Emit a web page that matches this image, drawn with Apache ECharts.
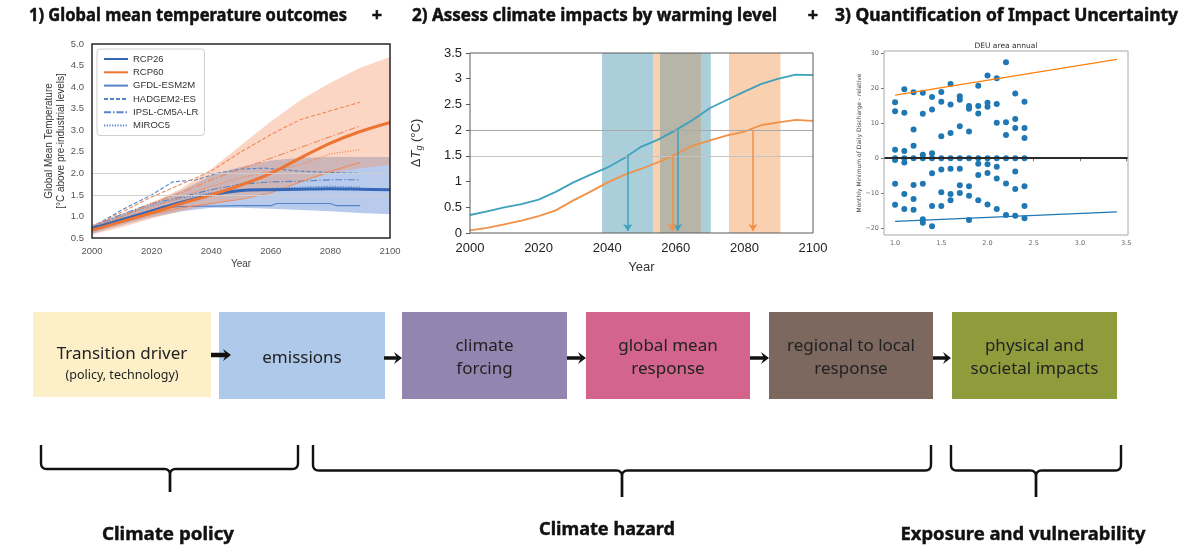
<!DOCTYPE html>
<html>
<head>
<meta charset="utf-8">
<script src="https://cdn.jsdelivr.net/npm/echarts@6/dist/echarts.min.js"></script>
<style>
  html, body { margin: 0; padding: 0; background: #fff; }
  #chart { width: 1182px; height: 547px; }
</style>
</head>
<body>
<div id="chart"></div>
<script>
// ---------- Panel 1: global mean temperature outcomes ----------
const years1 = [2000, 2010, 2020, 2030, 2040, 2050, 2060, 2070, 2080, 2090, 2100];
const rcp26   = [0.72, 0.92, 1.13, 1.33, 1.50, 1.60, 1.62, 1.63, 1.64, 1.63, 1.62];
const rcp26Lo = [0.60, 0.80, 0.98, 1.12, 1.20, 1.20, 1.18, 1.15, 1.12, 1.08, 1.05];
const rcp26Hi = [0.80, 1.05, 1.30, 1.60, 1.95, 2.15, 2.30, 2.36, 2.38, 2.38, 2.38];
const rcp60   = [0.68, 0.88, 1.08, 1.30, 1.50, 1.73, 2.00, 2.36, 2.70, 2.97, 3.18];
const rcp60Lo = [0.58, 0.75, 0.95, 1.12, 1.28, 1.42, 1.58, 1.80, 2.00, 2.12, 2.20];
const rcp60Hi = [0.80, 1.05, 1.32, 1.65, 2.10, 2.65, 3.20, 3.70, 4.10, 4.45, 4.70];

const modelYears = [2000, 2010, 2020, 2030, 2040, 2050, 2060, 2070, 2080, 2090];
const gfdl26Years = [2000, 2010, 2020, 2025, 2030, 2040, 2050, 2060, 2062, 2070, 2080, 2082, 2090];
const gfdl26 = [0.72, 0.95, 1.12, 1.20, 1.23, 1.24, 1.25, 1.25, 1.30, 1.30, 1.30, 1.25, 1.25];
const had26Years = [2000, 2010, 2020, 2027, 2035, 2042, 2050, 2058, 2070, 2080, 2090];
const had26  = [0.75, 1.15, 1.50, 1.80, 1.85, 2.00, 2.10, 2.12, 2.05, 2.02, 2.00];
const ipsl26  = [0.75, 1.05, 1.30, 1.45, 1.62, 1.75, 1.80, 1.82, 1.85, 1.85];
const miroc26 = [0.72, 1.00, 1.25, 1.42, 1.55, 1.62, 1.65, 1.68, 1.70, 1.68];
const gfdl60  = [0.70, 0.90, 1.05, 1.20, 1.30, 1.40, 1.55, 1.80, 2.05, 2.25];
const had60   = [0.75, 1.10, 1.45, 1.75, 2.05, 2.50, 2.90, 3.25, 3.45, 3.65];
const ipsl60  = [0.72, 1.00, 1.30, 1.55, 1.85, 2.10, 2.35, 2.60, 2.85, 3.10];
const miroc60 = [0.72, 0.95, 1.20, 1.45, 1.70, 1.90, 2.05, 2.20, 2.45, 2.55];
const targetLevels = [1.5, 2.0];

// ---------- Panel 2: warming-level crossing times ----------
const years2 = [2000, 2005, 2010, 2015, 2020, 2025, 2030, 2035, 2040, 2045, 2050,
                2055, 2060, 2065, 2070, 2075, 2080, 2085, 2090, 2095, 2100];
const upperPath = [0.35, 0.42, 0.50, 0.56, 0.65, 0.80, 0.98, 1.13, 1.27, 1.46, 1.68,
                   1.82, 2.00, 2.20, 2.43, 2.59, 2.75, 2.90, 3.00, 3.08, 3.07];
const lowerPath = [0.05, 0.10, 0.17, 0.24, 0.33, 0.44, 0.63, 0.80, 0.98, 1.13, 1.25,
                   1.38, 1.53, 1.70, 1.80, 1.90, 1.97, 2.10, 2.15, 2.20, 2.18];
const upperCrossings = [[2046, 1.5], [2060.5, 2.0]];
const lowerCrossings = [[2059, 1.5], [2082.5, 2.0]];
const upperWindows = [[2038.5, 2053.4], [2055.4, 2070.2]];
const lowerWindows = [[2053.4, 2067.3], [2075.5, 2090.5]];

// ---------- Panel 3: impact vs warming level ----------
const warmingLevels = [1.0, 1.1, 1.2, 1.3, 1.4, 1.5, 1.6, 1.7, 1.8, 1.9, 2.0, 2.1, 2.2, 2.3, 2.4];
const dischargeChange = [
  [16.0, 13.4, 2.4, 0, -0.5, -7.3, -13.3],
  [19.7, 13.0, 2.1, 0, -1.2, -10.2, -14.5],
  [18.8, 8.2, 3.6, 0, -7.6, -11.6, -14.7],
  [18.7, 12.7, 1.0, 0, -7.3, -17.4, -18.4],
  [17.5, 13.9, 1.4, 0, -4.3, -13.6, -19.4],
  [18.9, 16.1, 6.3, 0, -3.2, -9.7, -13.6],
  [21.2, 15.3, 7.2, 0, -3.0, -10.2, -12.0],
  [17.7, 16.7, 9.1, 0, -3.0, -7.7, -9.9],
  [14.9, 14.1, 7.6, 0, -8.0, -10.7, -17.6],
  [20.7, 14.9, 12.8, 0, -1.6, -4.8, -12.0],
  [23.6, 15.8, 14.7, 0, -1.7, -4.2, -13.2],
  [22.8, 15.5, 10.1, 0, -2.4, -5.8, -14.5],
  [27.4, 10.3, 6.6, 0, -7.2, -16.2],
  [18.5, 11.2, 8.6, 0, -3.8, -8.8, -16.4],
  [16.1, 8.6, 5.8, 0, -8.0, -13.6, -17.1]
];
const upperTrend = [[1.0, 18.0], [3.4, 28.2]];
const lowerTrend = [[1.0, -18.0], [3.4, -15.3]];
const xTicks3 = [1.0, 1.5, 2.0, 2.5, 3.0, 3.5];
const yTicks3 = [-20, -10, 0, 10, 20, 30];

// ---------- Text content ----------
const headings = ['1) Global mean temperature outcomes', '2) Assess climate impacts by warming level',
                  '3) Quantification of Impact Uncertainty'];
const stages = ['Transition driver', 'emissions', 'climate\nforcing', 'global mean\nresponse',
                'regional to local\nresponse', 'physical and\nsocietal impacts'];
const stageNote = '(policy, technology)';
const groups = ['Climate policy', 'Climate hazard', 'Exposure and vulnerability'];

// ---------- Layout & style ----------
const G1 = { left: 92, top: 44, width: 298, height: 194 };
const G2 = { left: 470, top: 53, width: 343, height: 180 };
const G3 = { left: 884, top: 51, width: 244, height: 184 };
const C26 = '#3467b6', C26t = '#5584c8', C60 = '#ee7433', C60t = '#ef8a58';
const TEAL = '#3ea2bd', ORNG = '#f29148';
const SANS = '"Liberation Sans", Arial, sans-serif';
const HEAD = '"Noto Sans", sans-serif';

const pairs = (xs, ys) => xs.map((x, i) => [x, ys[i]]);
const plain = v => String(v);
const measureCtx = document.createElement('canvas').getContext('2d');
function textWidth(t, font) { measureCtx.font = font; return measureCtx.measureText(t).width; }

// shaded ensemble range: one polygon through the upper bound and back along the lower bound
function rangeBand(name, lo, hi, color) {
  return { name, type: 'custom', xAxisIndex: 0, yAxisIndex: 0, silent: true, z: 1, clip: true,
    data: years1.map((x, i) => [x, lo[i], hi[i]]),
    renderItem: (params, api) => {
      if (params.dataIndex !== 0) return null;
      const top = years1.map((x, i) => api.coord([x, hi[i]]));
      const bottom = years1.map((x, i) => api.coord([x, lo[i]])).reverse();
      return { type: 'polygon', shape: { points: top.concat(bottom) }, style: { fill: color } };
    } };
}
function modelLine(name, xs, ys, color, type) {
  return { name, type: 'line', xAxisIndex: 0, yAxisIndex: 0, data: pairs(xs, ys), symbol: 'none',
           lineStyle: { color, width: 1.1, type }, itemStyle: { color, opacity: 0 }, silent: true, z: 3 };
}
const DASH = [4, 2], DASHDOT = [7, 2, 1.5, 2], DOT = [1.2, 1.5];

const series = [
  { name: 'levels 1', type: 'line', xAxisIndex: 0, yAxisIndex: 0, data: [], silent: true,
    markLine: { silent: true, symbol: 'none', label: { show: false },
      lineStyle: { color: '#cfcfcf', width: 1, type: 'solid' },
      data: targetLevels.map(v => ({ yAxis: v })) } },
  rangeBand('RCP26 range', rcp26Lo, rcp26Hi, 'rgba(72,118,204,0.38)'),
  rangeBand('RCP60 range', rcp60Lo, rcp60Hi, 'rgba(244,140,92,0.36)'),
  // individual models
  modelLine('GFDL-ESM2M', gfdl26Years, gfdl26, C26t, 'solid'),
  modelLine('HADGEM2-ES', had26Years, had26, C26t, DASH),
  modelLine('IPSL-CM5A-LR', modelYears, ipsl26, C26t, DASHDOT),
  modelLine('MIROC5', modelYears, miroc26, C26t, DOT),
  modelLine('GFDL-ESM2M 6.0', modelYears, gfdl60, C60t, 'solid'),
  modelLine('HADGEM2-ES 6.0', modelYears, had60, C60t, DASH),
  modelLine('IPSL-CM5A-LR 6.0', modelYears, ipsl60, C60t, DASHDOT),
  modelLine('MIROC5 6.0', modelYears, miroc60, C60t, DOT),
  // ensemble means
  { name: 'RCP26', type: 'line', xAxisIndex: 0, yAxisIndex: 0, data: pairs(years1, rcp26), symbol: 'none',
    smooth: 0.3, lineStyle: { color: C26, width: 3 }, itemStyle: { color: C26, opacity: 0 }, z: 4 },
  { name: 'RCP60', type: 'line', xAxisIndex: 0, yAxisIndex: 0, data: pairs(years1, rcp60), symbol: 'none',
    smooth: 0.3, lineStyle: { color: C60, width: 3 }, itemStyle: { color: C60, opacity: 0 }, z: 4 },

  // ---- panel 2 ----
  { name: 'windows', type: 'line', xAxisIndex: 1, yAxisIndex: 1, data: [], silent: true,
    markArea: { silent: true, data: (() => {
      const areas = [];
      upperWindows.forEach(w => areas.push([{ xAxis: w[0], itemStyle: { color: '#aacfdb' } }, { xAxis: w[1] }]));
      lowerWindows.forEach(w => areas.push([{ xAxis: w[0], itemStyle: { color: '#f9d0b0' } }, { xAxis: w[1] }]));
      upperWindows.forEach(a => lowerWindows.forEach(b => {
        const s = Math.max(a[0], b[0]), e = Math.min(a[1], b[1]);
        if (e > s) areas.push([{ xAxis: s, itemStyle: { color: '#b6b5a8' } }, { xAxis: e }]);
      }));
      return areas;
    })() } },
  { name: 'levels 2', type: 'line', xAxisIndex: 1, yAxisIndex: 1, data: [], silent: true,
    markLine: { silent: true, symbol: 'none', label: { show: false },
      data: [{ yAxis: 1.5, lineStyle: { color: '#c4c4c4', width: 1, type: 'solid' } },
             { yAxis: 2.0, lineStyle: { color: '#a9a9a9', width: 1.2, type: 'solid' } }] } },
  { name: 'upper', type: 'line', xAxisIndex: 1, yAxisIndex: 1, data: pairs(years2, upperPath), symbol: 'none',
    lineStyle: { color: TEAL, width: 1.8 }, silent: true,
    markLine: { silent: true, symbol: ['none', 'arrow'], symbolSize: 7, label: { show: false },
      lineStyle: { color: TEAL, width: 1.5, type: 'solid' },
      data: upperCrossings.map(c => [{ coord: [c[0], c[1]] }, { coord: [c[0], 0.04] }]) } },
  { name: 'lower', type: 'line', xAxisIndex: 1, yAxisIndex: 1, data: pairs(years2, lowerPath), symbol: 'none',
    lineStyle: { color: ORNG, width: 1.8 }, silent: true,
    markLine: { silent: true, symbol: ['none', 'arrow'], symbolSize: 7, label: { show: false },
      lineStyle: { color: ORNG, width: 1.5, type: 'solid' },
      data: lowerCrossings.map(c => [{ coord: [c[0], c[1]] }, { coord: [c[0], 0.04] }]) } },

  // ---- panel 3 ----
  { name: 'lower trend', type: 'line', xAxisIndex: 2, yAxisIndex: 2, data: lowerTrend, symbol: 'none',
    lineStyle: { color: '#1f77b4', width: 1.3 }, silent: true,
    markLine: { silent: true, symbol: 'none', label: { show: false },
      lineStyle: { color: '#2b2b2b', width: 2.2, type: 'solid' }, data: [{ yAxis: 0 }] } },
  { name: 'upper trend', type: 'line', xAxisIndex: 2, yAxisIndex: 2, data: upperTrend, symbol: 'none',
    lineStyle: { color: '#ff7f0e', width: 1.3 }, silent: true },
  { name: 'members', type: 'scatter', xAxisIndex: 2, yAxisIndex: 2, symbolSize: 6, silent: true,
    itemStyle: { color: '#1f77b4', opacity: 1 },
    data: warmingLevels.flatMap((x, i) => dischargeChange[i].map(v => [x, v])) }
];

// ---------- graphic overlay: headings, frames, flow diagram ----------
const graphic = [];
const headFont = `bold 18px ${HEAD}`;
const headingLayout = [{ x: 29, w: 318, plus: 377 }, { x: 412, w: 365, plus: 813 }, { x: 835, w: 343 }];
headings.forEach((t, i) => {
  const L = headingLayout[i];
  graphic.push({ type: 'text', x: L.x, y: 16, scaleX: L.w / textWidth(t, headFont),
    style: { text: t, font: headFont, fill: '#111', stroke: '#111', lineWidth: 0.5,
             verticalAlign: 'middle', textVerticalAlign: 'middle' } });
  if (L.plus) graphic.push({ type: 'text', x: L.plus, y: 16,
    style: { text: '+', font: headFont, fill: '#111', stroke: '#111', lineWidth: 0.5, align: 'center',
             textAlign: 'center', verticalAlign: 'middle', textVerticalAlign: 'middle' } });
});
[[G1, '#262626', 1.5], [G2, '#5a5a5a', 1], [G3, '#a8a8a8', 1]].forEach(([G, c, w]) => {
  graphic.push({ type: 'rect', z: 100, silent: true,
    shape: { x: G.left, y: G.top, width: G.width, height: G.height },
    style: { fill: null, stroke: c, lineWidth: w } });
});
graphic.push({ type: 'text', x: G3.left + G3.width / 2, y: 46.5,
  style: { text: 'DEU area annual', font: `7.5px "DejaVu Sans"`, fill: '#333', align: 'center',
           textAlign: 'center', verticalAlign: 'middle', textVerticalAlign: 'middle' } });

const boxLayout = [[33, 211], [219, 385], [402, 567], [586, 750], [769, 933], [952, 1117]];
const boxColors = ['#fdf0c9', '#aec9e9', '#9485b0', '#d3648c', '#7c685e', '#8f9c3b'];
const BOX_TOP = 312, BOX_H = 87;
stages.forEach((t, i) => {
  const [x0, x1] = boxLayout[i];
  graphic.push({ type: 'rect', shape: { x: x0, y: BOX_TOP, width: x1 - x0, height: i === 0 ? BOX_H - 2 : BOX_H },
    style: { fill: boxColors[i] } });
  const cx = (x0 + x1) / 2;
  if (i === 0) {
    graphic.push({ type: 'text', x: cx, y: 354,
      style: { text: t, font: `17px ${HEAD}`, fill: '#222', align: 'center', textAlign: 'center',
               verticalAlign: 'middle', textVerticalAlign: 'middle' } });
    graphic.push({ type: 'text', x: cx, y: 375,
      style: { text: stageNote, font: `12.5px ${HEAD}`, fill: '#222', align: 'center', textAlign: 'center',
               verticalAlign: 'middle', textVerticalAlign: 'middle' } });
  } else {
    graphic.push({ type: 'text', x: cx, y: 358,
      style: { text: t, font: `17px ${HEAD}`, lineHeight: 23, fill: '#222', align: 'center', textAlign: 'center',
               verticalAlign: 'middle', textVerticalAlign: 'middle' } });
  }
});
const arrowLayout = [[211, 231, 355, 4.5], [384, 402, 358, 3.5], [567, 586, 358, 3.5], [750, 769, 358, 3.5], [933, 951, 358, 3.5]];
arrowLayout.forEach(([x0, x1, y, w]) => {
  graphic.push({ type: 'line', shape: { x1: x0, y1: y, x2: x1 - 5, y2: y }, style: { stroke: '#111', lineWidth: w } });
  graphic.push({ type: 'polygon', shape: { points: [[x1 - 8, y - 6], [x1, y], [x1 - 8, y + 6], [x1 - 5, y]] },
    style: { fill: '#111' } });
});

// curly braces: sampled quadratic corners so each half is one polyline
function quad(p0, p1, p2, n) {
  const pts = [];
  for (let k = 1; k <= n; k++) {
    const t = k / n, u = 1 - t;
    pts.push([u * u * p0[0] + 2 * u * t * p1[0] + t * t * p2[0], u * u * p0[1] + 2 * u * t * p1[1] + t * t * p2[1]]);
  }
  return pts;
}
const braceLayout = [{ x0: 41, x1: 298, cx: 170, mid: 469, tip: 492 },
                     { x0: 313, x1: 931, cx: 622, mid: 470.5, tip: 497 },
                     { x0: 951, x1: 1121, cx: 1036, mid: 470.5, tip: 497 }];
const BRACE_TOP = 445, R = 6;
braceLayout.forEach(({ x0, x1, cx, mid, tip }) => {
  [[x0, 1], [x1, -1]].forEach(([xe, dir]) => {
    const pts = [[xe, BRACE_TOP], [xe, mid - R]];
    pts.push(...quad([xe, mid - R], [xe, mid], [xe + dir * R, mid], 6));
    pts.push([cx - dir * R, mid]);
    pts.push(...quad([cx - dir * R, mid], [cx, mid], [cx, mid + R], 6));
    pts.push([cx, tip]);
    graphic.push({ type: 'polyline', shape: { points: pts },
      style: { fill: null, stroke: '#111', lineWidth: 2.4, lineJoin: 'round' } });
  });
});
const groupLayout = [{ cx: 168, w: 132, y: 535 }, { cx: 607, w: 136, y: 530 }, { cx: 1023, w: 245, y: 535 }];
const groupFont = `bold 17px ${HEAD}`;
groups.forEach((t, i) => {
  const L = groupLayout[i];
  graphic.push({ type: 'text', x: L.cx, y: L.y, scaleX: L.w / textWidth(t, groupFont),
    style: { text: t, font: groupFont, fill: '#111', stroke: '#111', lineWidth: 0.4, align: 'center',
             textAlign: 'center', verticalAlign: 'middle', textVerticalAlign: 'middle' } });
});

const hidden = { show: false };
const option = {
  animation: false,
  backgroundColor: '#fff',
  grid: [
    Object.assign({}, G1, { show: false }),
    Object.assign({}, G2, { show: false }),
    Object.assign({}, G3, { show: false })
  ],
  legend: {
    left: 97, top: 49, orient: 'vertical', selectedMode: false,
    data: ['RCP26', 'RCP60', 'GFDL-ESM2M', 'HADGEM2-ES', 'IPSL-CM5A-LR', 'MIROC5'],
    itemWidth: 24, itemHeight: 10, itemGap: 3.3, padding: [5, 6, 5, 6],
    itemStyle: { opacity: 0 },
    borderColor: '#cfcfcf', borderWidth: 1, borderRadius: 3, backgroundColor: 'rgba(255,255,255,0.9)',
    textStyle: { fontSize: 9.5, lineHeight: 10, color: '#333', fontFamily: SANS }
  },
  xAxis: [
    { gridIndex: 0, type: 'value', min: 2000, max: 2100, interval: 20,
      axisLine: hidden, axisTick: hidden, splitLine: hidden,
      axisLabel: { formatter: plain, color: '#555', fontSize: 9.5, margin: 8, fontFamily: SANS },
      name: 'Year', nameLocation: 'middle', nameGap: 21,
      nameTextStyle: { color: '#444', fontSize: 10, fontFamily: SANS } },
    { gridIndex: 1, type: 'value', min: 2000, max: 2100, interval: 20,
      axisLine: hidden, axisTick: hidden, splitLine: hidden,
      axisLabel: { formatter: plain, color: '#222', fontSize: 13, margin: 9, fontFamily: SANS },
      name: 'Year', nameLocation: 'middle', nameGap: 28,
      nameTextStyle: { color: '#333', fontSize: 13, fontFamily: SANS } },
    { gridIndex: 2, type: 'value', min: 0.88, max: 3.52,
      axisLine: hidden, splitLine: hidden,
      axisTick: { show: true, length: 3, customValues: xTicks3, lineStyle: { color: '#777' } },
      axisLabel: { customValues: xTicks3, formatter: v => v.toFixed(1), color: '#666', fontSize: 6.5,
                   margin: 5, fontFamily: '"DejaVu Sans"' } }
  ],
  yAxis: [
    { gridIndex: 0, type: 'value', min: 0.5, max: 5, interval: 0.5,
      axisLine: hidden, axisTick: hidden, splitLine: hidden,
      axisLabel: { formatter: v => v.toFixed(1), color: '#555', fontSize: 9.5, margin: 8, fontFamily: SANS },
      name: 'Global Mean Temperature\n[°C above pre-industrial levels]', nameLocation: 'middle', nameGap: 25,
      nameMoveOverlap: false,
      nameTextStyle: { color: '#333', fontSize: 10, lineHeight: 12, fontFamily: SANS } },
    { gridIndex: 1, type: 'value', min: 0, max: 3.5, interval: 0.5,
      axisLine: hidden, splitLine: hidden,
      axisTick: { show: true, length: 4, lineStyle: { color: '#555' } },
      axisLabel: { formatter: plain, color: '#222', fontSize: 13, margin: 8, fontFamily: SANS },
      name: '{d|Δ}{t|T}{g|g}{d| (°C)}', nameLocation: 'middle', nameGap: 46, nameMoveOverlap: false,
      nameTextStyle: { rich: {
        d: { fontSize: 13, color: '#333', fontFamily: SANS, lineHeight: 16 },
        t: { fontSize: 13, color: '#333', fontFamily: SANS, fontStyle: 'italic', lineHeight: 16 },
        g: { fontSize: 9, color: '#333', fontFamily: SANS, fontStyle: 'italic', verticalAlign: 'bottom', lineHeight: 11 } } } },
    { gridIndex: 2, type: 'value', min: -21.9, max: 30.6,
      axisLine: hidden, splitLine: hidden,
      axisTick: { show: true, length: 3, customValues: yTicks3, lineStyle: { color: '#777' } },
      axisLabel: { customValues: yTicks3, formatter: v => (v < 0 ? '\u2212' + Math.abs(v) : String(v)),
                   color: '#666', fontSize: 6.5, margin: 5, fontFamily: '"DejaVu Sans"' },
      name: 'Monthly Minimum of Daily Discharge - relative', nameLocation: 'middle', nameGap: 22,
      nameMoveOverlap: false,
      nameTextStyle: { color: '#444', fontSize: 6, fontFamily: '"DejaVu Sans"' } }
  ],
  series,
  graphic
};

const chart = echarts.init(document.getElementById('chart'), null, { renderer: 'canvas', width: 1182, height: 547 });
chart.setOption(option);
</script>
</body>
</html>
